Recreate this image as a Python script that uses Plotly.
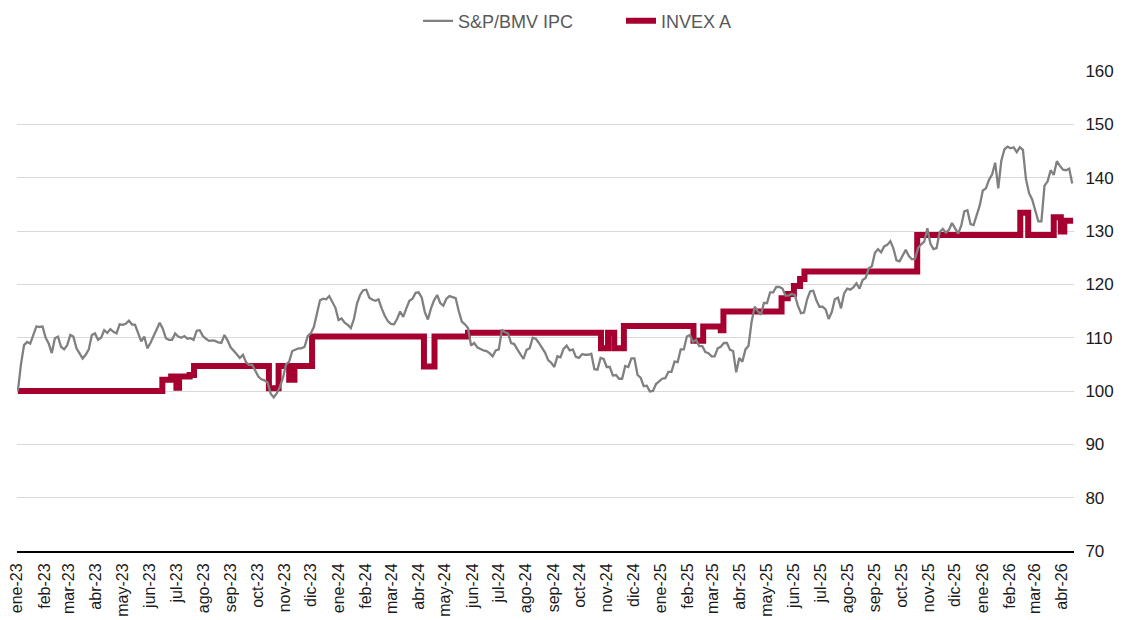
import pandas as pd
import plotly.graph_objects as go

# ---------------- data ----------------
# S&P/BMV IPC, readings twice a week (base 100 on 2023-01-02)
ipc_start = "2023-01-02"
ipc_step = "84h"
ipc_values = [
    100.0, 105.0, 108.6, 109.2, 108.9, 110.4, 112.1, 112.0, 112.1, 110.0,
    108.9, 107.1, 109.9, 110.2, 108.3, 107.8, 108.6, 110.5, 110.2, 108.0,
    107.1, 106.1, 106.8, 107.8, 110.5, 110.8, 109.6, 110.0, 111.4, 110.9,
    111.6, 111.1, 110.8, 112.5, 112.4, 112.6, 113.2, 112.5, 112.4, 111.0,
    109.3, 110.2, 108.0, 109.0, 110.2, 111.3, 112.8, 111.7, 109.9, 109.6,
    109.6, 110.8, 110.2, 110.0, 110.3, 109.8, 109.9, 109.6, 111.3, 111.4,
    110.3, 109.8, 109.4, 109.5, 109.4, 109.1, 109.0, 110.5, 109.5, 108.2,
    107.6, 106.9, 106.2, 106.8, 105.4, 104.9, 104.9, 103.9, 102.7, 102.2,
    102.0, 101.6, 99.5, 98.8, 99.6, 100.8, 102.5, 105.0, 105.5, 107.5,
    107.7, 108.0, 108.0, 108.3, 110.3, 110.8, 112.0, 114.8, 117.0, 117.3,
    117.2, 117.8, 116.8, 115.6, 113.3, 113.6, 112.8, 112.4, 111.8, 113.5,
    116.4, 118.0, 118.9, 119.0, 117.5, 117.1, 116.9, 117.2, 115.5, 114.1,
    113.1, 112.6, 112.5, 113.5, 114.9, 113.9, 115.5, 116.9, 117.3, 118.4,
    118.5, 117.5, 114.8, 113.4, 115.5, 117.0, 118.0, 116.5, 116.0, 117.3,
    117.8, 117.6, 117.4, 115.0, 113.0, 112.5, 111.8, 108.5, 109.0, 108.2,
    107.9, 107.6, 107.5, 107.1, 106.5, 107.6, 107.8, 111.5, 111.0, 110.8,
    109.0, 108.8, 107.8, 106.8, 106.0, 107.7, 108.0, 110.0, 109.8, 109.0,
    108.0, 107.2, 105.8, 105.3, 104.5, 106.5, 106.3, 107.9, 108.5, 107.6,
    107.8, 106.4, 106.2, 106.9, 106.8, 106.8, 107.0, 104.1, 104.0, 106.2,
    106.0, 104.5, 104.5, 102.9, 103.0, 102.3, 102.3, 104.7, 104.5, 106.1,
    106.1, 103.0, 102.5, 100.9, 101.0, 99.9, 100.0, 101.3, 101.8, 102.3,
    102.4, 103.6, 103.6, 105.5, 105.4, 107.8, 107.8, 110.2, 110.5, 109.2,
    109.6, 108.4, 108.4, 107.3, 107.1, 106.5, 106.5, 108.0, 108.3, 109.0,
    109.0, 107.7, 107.5, 103.5, 106.2, 105.5, 107.8, 108.5, 113.0, 115.8,
    115.0, 114.3, 116.5, 116.5, 118.5, 118.5, 119.5, 119.5, 119.2, 117.9,
    117.9, 118.2, 118.0, 116.0, 114.6, 114.7, 117.2, 118.7, 118.8, 117.0,
    115.8, 115.8, 115.3, 113.5, 114.8, 117.2, 117.5, 115.5, 118.3, 119.2,
    119.0, 119.4, 120.2, 119.2, 120.8, 121.2, 123.0, 123.4, 125.9, 126.6,
    126.0, 127.1, 127.4, 128.1, 126.7, 124.5, 124.3, 125.5, 126.5, 125.3,
    124.7, 124.8, 126.8, 127.5, 128.0, 130.5, 127.6, 126.6, 126.8, 129.8,
    130.4, 129.7, 130.2, 131.5, 130.4, 129.5, 131.0, 133.7, 133.9, 131.3,
    131.1, 133.2, 134.8, 137.6, 138.0, 139.6, 140.6, 142.8, 138.0, 143.2,
    145.3, 145.8, 145.5, 145.7, 144.8, 145.7, 145.2, 139.7, 137.1, 135.9,
    133.9, 131.8, 131.8, 138.5, 139.3, 141.4, 140.5, 143.1, 142.2, 141.5,
    141.4, 141.7, 138.9,
]

# INVEX A, value changes (step series)
invex_dates = [
    "2023-01-02", "2023-06-15", "2023-06-25", "2023-07-01", "2023-07-04",
    "2023-07-16", "2023-07-21", "2023-10-14", "2023-10-25", "2023-11-06",
    "2023-11-12", "2023-12-02", "2024-04-07", "2024-04-19", "2024-05-27",
    "2024-10-25", "2024-11-02", "2024-11-09", "2024-11-20", "2025-02-07",
    "2025-02-18", "2025-03-10", "2025-03-13", "2025-05-18", "2025-05-25",
    "2025-06-01", "2025-06-08", "2025-06-13", "2025-10-19", "2026-02-13",
    "2026-02-22", "2026-03-23", "2026-03-31", "2026-04-04", "2026-04-14",
]
invex_values = [
    100.0, 102.1, 102.7, 100.6, 102.7,
    103.0, 104.7, 100.5, 104.7, 102.1,
    104.7, 110.2, 104.6, 110.2, 110.9,
    108.0, 110.9, 108.0, 112.2, 109.4,
    112.1, 111.4, 114.9, 117.4, 118.2,
    119.7, 121.0, 122.4, 129.25, 133.4,
    129.25, 132.6, 129.9, 131.9, 131.9,
]

month_names = ["ene", "feb", "mar", "abr", "may", "jun",
               "jul", "ago", "sep", "oct", "nov", "dic"]
tick_dates = pd.date_range("2023-01-01", "2026-04-01", freq="MS")
tick_labels = [f"{month_names[d.month - 1]}-{str(d.year)[2:]}" for d in tick_dates]

y_ticks = [70, 80, 90, 100, 110, 120, 130, 140, 150, 160]

# ---------------- figure ----------------
ipc_dates = pd.date_range(ipc_start, periods=len(ipc_values), freq=ipc_step)

FONT = "Liberation Sans, Arial, sans-serif"
RED = "#A50030"
GRAY = "#808080"

# the page body adds an 8px offset, so the figure is 8px smaller
W, H = 1115, 612
ML, MR, MT, MB = 9, 49, 63, 69

fig = go.Figure()
fig.add_trace(go.Scatter(
    x=pd.to_datetime(invex_dates), y=invex_values, name="INVEX A",
    mode="lines", line=dict(color=RED, width=6, shape="hv"),
))
fig.add_trace(go.Scatter(
    x=ipc_dates, y=ipc_values, name="S&P/BMV IPC",
    mode="lines", line=dict(color=GRAY, width=2.3),
))

plot_w = W - ML - MR
fig.update_layout(
    width=W, height=H,
    margin=dict(l=ML, r=MR, t=MT, b=MB, autoexpand=False),
    paper_bgcolor="white", plot_bgcolor="white",
    font=dict(family=FONT, size=17, color="#1a1a1a"),
    showlegend=True,
    legend=dict(
        orientation="h", traceorder="reversed",
        x=(418 - 8 - ML) / plot_w, xanchor="left", y=1.104, yanchor="middle",
        entrywidth=158, entrywidthmode="pixels",
        font=dict(family=FONT, size=18, color="#595959"),
        bgcolor="rgba(0,0,0,0)", borderwidth=0,
    ),
    xaxis=dict(
        type="date",
        range=["2023-01-01", "2026-04-15"],
        tickvals=list(tick_dates), ticktext=tick_labels,
        tickangle=-90, ticklabeloverflow="allow",
        ticks="outside", ticklen=4, tickcolor="rgba(0,0,0,0)",
        showgrid=False, zeroline=False,
        showline=True, linecolor="black", linewidth=2,
        automargin=False,
        tickfont=dict(family=FONT, size=16, color="#1a1a1a"),
    ),
    yaxis=dict(
        side="right", range=[70, 160],
        tickvals=y_ticks,
        ticks="outside", ticklen=7, tickcolor="rgba(0,0,0,0)",
        showgrid=True, gridcolor="#D9D9D9", gridwidth=1,
        zeroline=False, showline=False,
        automargin=False,
        tickfont=dict(family=FONT, size=17, color="#1a1a1a"),
    ),
)

fig.write_html("out.html")
